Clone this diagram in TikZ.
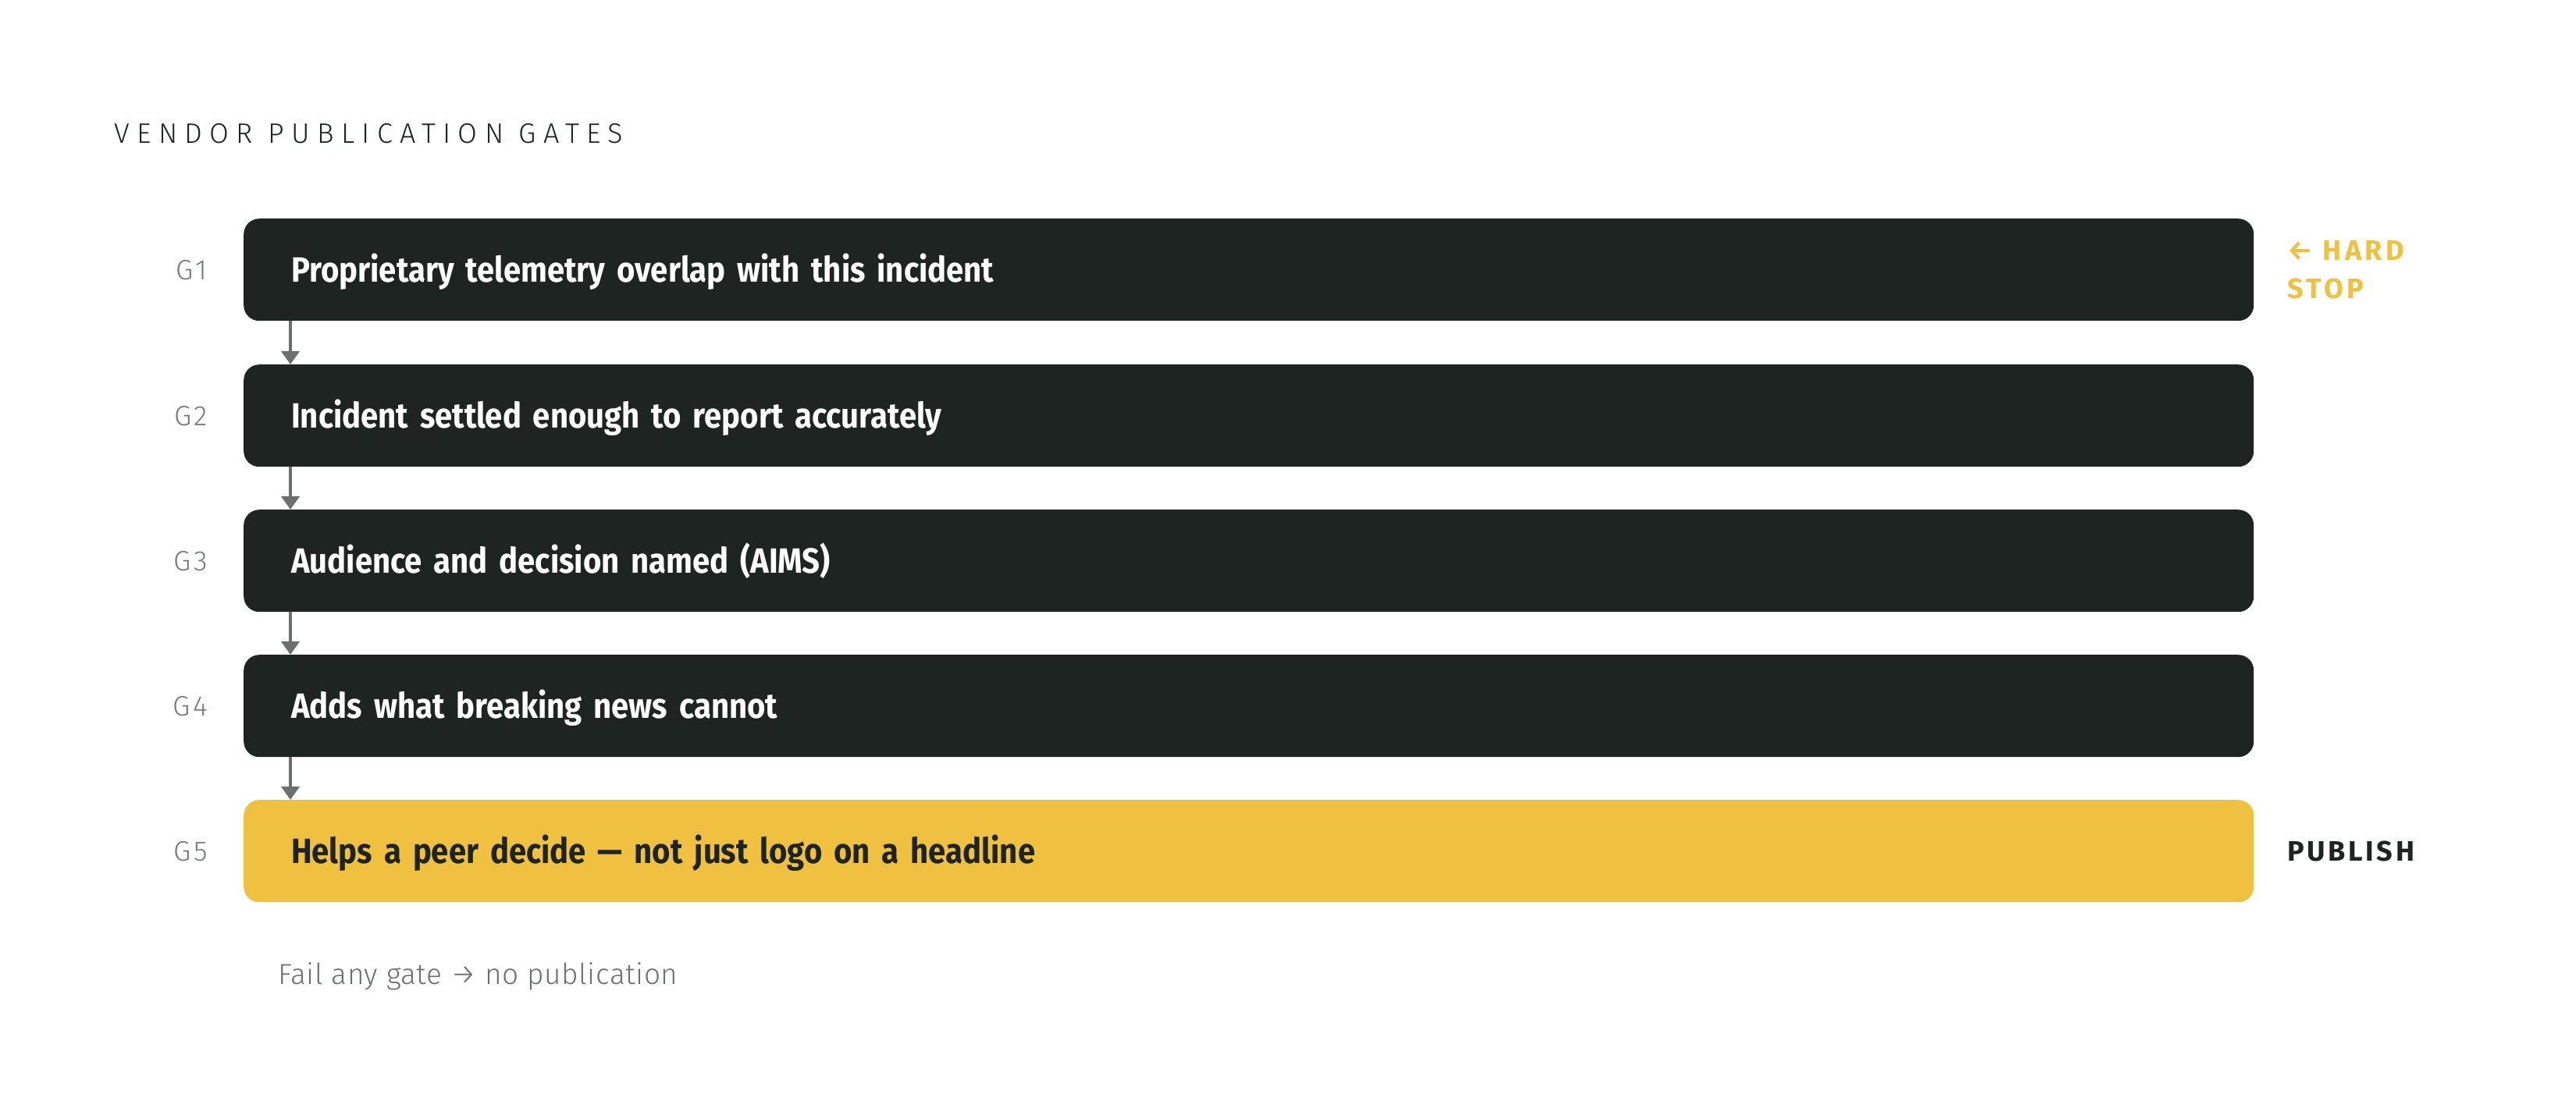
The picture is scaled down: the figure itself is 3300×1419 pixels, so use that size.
\documentclass[tikz,border=0pt]{standalone}
\usepackage{fontspec}
\setmainfont{Fira Sans}
\newfontfamily\lightfont{Fira Sans Light}
\usetikzlibrary{arrows.meta}

\definecolor{gateink}{HTML}{1D2421}
\definecolor{gategold}{HTML}{F0C041}
\definecolor{flowgray}{HTML}{6B706E}
\definecolor{taggray}{HTML}{767A78}

\begin{document}
\begin{tikzpicture}[
        x=1pt, y=-1pt,
        >={Triangle[length=17pt,width=23pt]},
        gatebox/.style={rectangle, rounded corners=20pt, fill=gateink, text=white,
            anchor=north west, minimum width=2575pt, minimum height=131pt,
            text width=2453pt, inner xsep=61pt, inner ysep=0pt, align=left,
            text height=31pt, text depth=0pt,
            font=\fontsize{45}{54}\selectfont\bfseries\addfontfeature{FakeStretch=0.89}},
        gatetag/.style={anchor=east, inner sep=0pt, text=taggray,
            text height=25pt, text depth=0pt,
            font=\lightfont\fontsize{36}{43}\selectfont\addfontfeature{LetterSpace=10}},
        sidenote/.style={inner sep=0pt, align=left,
            font=\fontsize{36}{49}\selectfont\bfseries\addfontfeature{LetterSpace=12}},
        flow/.style={->, draw=flowgray, line width=4pt},
    ]
    \useasboundingbox (0,0) rectangle (3300,1419);

    % title
    \node[anchor=base west, inner sep=0pt, text=gateink,
          font=\lightfont\fontsize{36}{43}\selectfont\addfontfeature{LetterSpace=26}]
        (title) at (146,183) {VENDOR PUBLICATION GATES};

    % gates
    \foreach \n/\top/\txt in {1/280/{Proprietary telemetry overlap with this incident},
                              2/467/{Incident settled enough to report accurately},
                              3/653/{Audience and decision named (AIMS)},
                              4/839/{Adds what breaking news cannot}}
        \node[gatebox] (gate\n) at (312,\top) {\txt};
    \node[gatebox, fill=gategold, text=gateink] (gate5) at (312,1025)
        {Helps a peer decide — not just logo on a headline};

    \foreach \n in {1,...,5}
        \node[gatetag] (tag\n) at ([xshift=-46pt]gate\n.west) {G\n};

    \foreach \a/\b in {1/2, 2/3, 3/4, 4/5}
        \draw[flow] ([xshift=60pt]gate\a.south west) -- ([xshift=60pt]gate\b.north west);

    % outcomes
    \node[sidenote, anchor=west, text=gategold] (hardstop) at ([xshift=43pt]gate1.east)
        {{\lightfont ←} HARD\\STOP};
    \node[sidenote, anchor=west, text=gateink, text height=25pt, text depth=0pt,
          font=\fontsize{36}{49}\selectfont\bfseries\addfontfeature{LetterSpace=10}]
        (publish) at ([xshift=43pt]gate5.east) {PUBLISH};

    \node[anchor=base west, inner sep=0pt, text=flowgray,
          font=\lightfont\fontsize{37}{44}\selectfont\addfontfeature{LetterSpace=1.5}]
        (rule) at (356,1261) {Fail any gate → no publication};
\end{tikzpicture}
\end{document}
